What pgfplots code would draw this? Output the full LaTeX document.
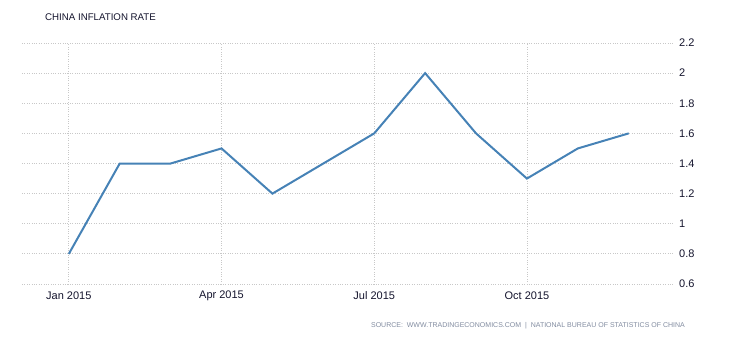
\documentclass[border=0pt]{standalone}
\usepackage{pgfplots}
\pgfplotsset{compat=1.18}
\usepackage{fontspec}
\setmainfont{Liberation Sans}
\definecolor{linec}{RGB}{70,130,182}
\definecolor{txt}{RGB}{20,20,45}
\definecolor{gridc}{RGB}{200,200,200}
\definecolor{srcc}{RGB}{130,140,160}
\begin{document}
\begin{tikzpicture}[x=1bp,y=1bp]
\useasboundingbox (0,0) rectangle (730,340);
\node[anchor=west,inner sep=0,text=txt,font=\fontsize{9.7bp}{11bp}\selectfont] at (45,323) {CHINA INFLATION RATE};
\begin{axis}[
  at={(22bp,56bp)}, anchor=south west,
  scale only axis, width=651bp, height=241bp,
  xmin=-0.92, xmax=11.87,
  ymin=0.6, ymax=2.2,
  axis line style={draw=none},
  xtick={0,3,6,9},
  xticklabels={Jan 2015,Apr 2015,Jul 2015,Oct 2015},
  ytick={0.6,0.8,1,1.2,1.4,1.6,1.8,2,2.2},
  ytick pos=right, yticklabel pos=right,
  major tick length=0pt,
  grid=major,
  major grid style={gridc, dotted, line width=0.8bp},
  tick label style={text=txt, font=\fontsize{11bp}{13bp}\selectfont},
  yticklabel style={anchor=west, inner sep=0pt, xshift=6bp},
  xticklabel style={anchor=center, inner sep=0pt, yshift=-12bp},
  /pgf/number format/assume math mode=true,
  clip=false,
]
\addplot[linec, line width=2bp, mark=none] coordinates {
 (0,0.8) (1,1.4) (2,1.4) (3,1.5) (4,1.2) (5,1.4)
 (6,1.6) (7,2.0) (8,1.6) (9,1.3) (10,1.5) (11,1.6)
};
\end{axis}
\node[anchor=east,inner sep=0,text=srcc,font=\fontsize{7.0bp}{9bp}\selectfont] at (685,14) {SOURCE:\ \ WWW.TRADINGECONOMICS.COM \ |\ \ NATIONAL BUREAU OF STATISTICS OF CHINA};
\end{tikzpicture}
\end{document}
